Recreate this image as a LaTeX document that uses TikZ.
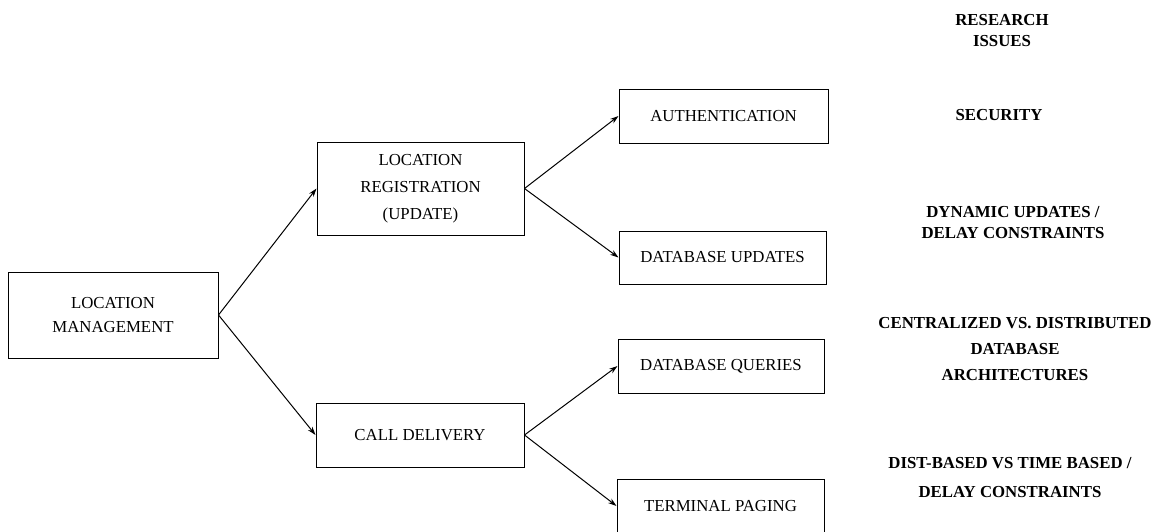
\documentclass[tikz,border=0pt]{standalone}
\usepackage{fontspec}
\setmainfont{Liberation Serif}
\usetikzlibrary{arrows.meta}
\begin{document}
\begin{tikzpicture}[x=1pt, y=-1pt,
        box/.style={draw, line width=1pt, align=center, inner sep=0pt,
          font=\fontsize{16.8}{24}\selectfont},
        issue/.style={align=center, inner sep=0pt,
          font=\fontsize{16.8}{21}\selectfont\bfseries},
        link/.style={line width=1pt, -{Stealth[length=8.5pt, width=5.5pt]}}]
        \useasboundingbox (0,0) rectangle (1162,531);

        % management tree
        \node[box, minimum width=210pt, minimum height=86pt] (mgmt) at (113,315) {LOCATION\\MANAGEMENT};
        \node[box, minimum width=207pt, minimum height=93pt, font=\fontsize{16.8}{27}\selectfont] (reg) at (420.5,188.5) {LOCATION\\REGISTRATION\\(UPDATE)};
        \node[box, minimum width=208pt, minimum height=64pt] (call) at (420,435) {CALL DELIVERY};

        \node[box, minimum width=209pt, minimum height=54pt] (auth) at (723.5,116) {AUTHENTICATION};
        \node[box, minimum width=207pt, minimum height=53pt] (dbupd) at (722.5,257.5) {DATABASE UPDATES};
        \node[box, minimum width=206pt, minimum height=54pt] (dbqry) at (721,366) {DATABASE QUERIES};
        \node[box, minimum width=207pt, minimum height=54pt] (paging) at (720.5,506) {TERMINAL PAGING};

        \draw[link] (mgmt.east) -- (reg.west);
        \draw[link] (mgmt.east) -- (call.west);
        \draw[link] (reg.east) -- (auth.west);
        \draw[link] (reg.east) -- (dbupd.west);
        \draw[link] (call.east) -- (dbqry.west);
        \draw[link] (call.east) -- (paging.west);

        % research issues column
        \node[issue] (head) at (1002,31) {RESEARCH\\ISSUES};
        \node[issue] (security) at (999,115) {SECURITY};
        \node[issue] (dynamic) at (1013,222.5) {DYNAMIC UPDATES /\\DELAY CONSTRAINTS};
        \node[issue, font=\fontsize{16.8}{26}\selectfont\bfseries] (central) at (1015,349) {CENTRALIZED VS. DISTRIBUTED\\DATABASE\\ARCHITECTURES};
        \node[issue, font=\fontsize{16.8}{29}\selectfont\bfseries] (timing) at (1010,477.5) {DIST-BASED VS TIME BASED /\\DELAY CONSTRAINTS};
\end{tikzpicture}
\end{document}
